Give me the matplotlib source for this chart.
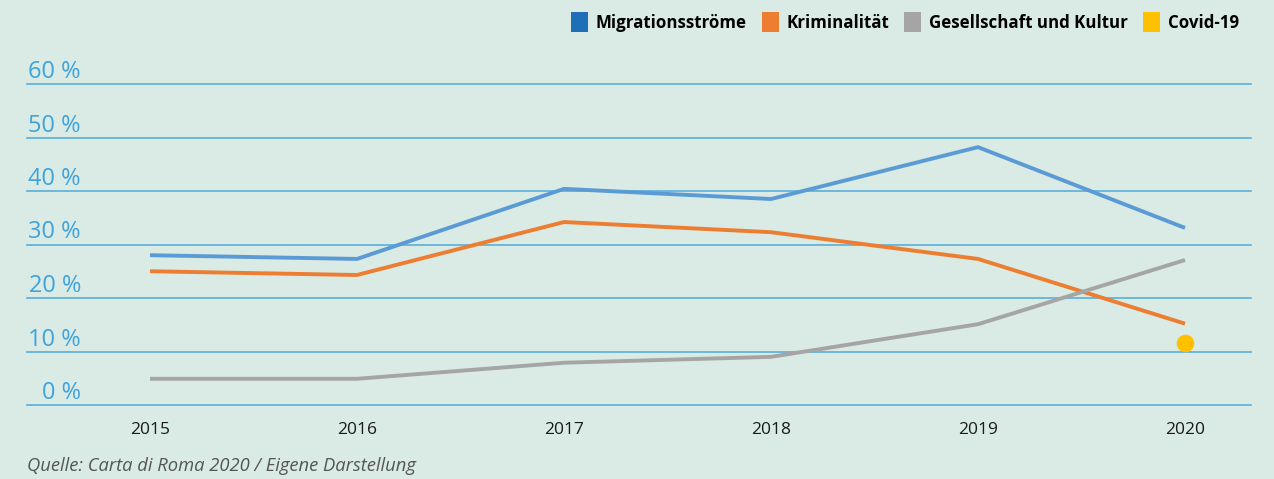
import matplotlib
matplotlib.use("Agg")
import matplotlib.pyplot as plt
from matplotlib.patches import Patch

years = [2015, 2016, 2017, 2018, 2019, 2020]
migration = [28.0, 27.3, 40.4, 38.5, 48.2, 33.1]
kriminalitaet = [25.0, 24.3, 34.2, 32.3, 27.3, 15.2]
gesellschaft = [4.9, 4.9, 7.9, 9.0, 15.1, 27.1]
covid_year = [2020]
covid = [11.6]
yticks = [0, 10, 20, 30, 40, 50, 60]
ytick_labels = ["0 %", "10 %", "20 %", "30 %", "40 %", "50 %", "60 %"]
legend_labels = ["Migrationsströme", "Kriminalität", "Gesellschaft und Kultur", "Covid-19"]
source = "Quelle: Carta di Roma 2020 / Eigene Darstellung"

BG = "#d9ebe4"
GRID = "#5aaedc"
TICK = "#3fa3dc"
C_BLUE = "#5b9bd5"
C_ORANGE = "#ed7d31"
C_GRAY = "#a5a5a5"
C_YELLOW = "#ffc000"
LEG_BLUE = "#1f6fb8"

plt.rcParams['font.family'] = ['Open Sans', 'DejaVu Sans']

W, H = 1274, 479
fig = plt.figure(figsize=(W / 100, H / 100), dpi=100, facecolor=BG)
ax = fig.add_axes([27 / W, 1 - 405 / H, (1251 - 27) / W, (405 - 84) / H], facecolor=BG)

ax.set_xlim(2015 - 123 / 207, 2020 + 66 / 207)
ax.set_ylim(0, 60)
for s in ax.spines.values():
    s.set_visible(False)

for y in yticks:
    ax.axhline(y, color=GRID, lw=1.2, zorder=1, clip_on=False)

ax.plot(years, migration, color=C_BLUE, lw=2.8, zorder=3, solid_capstyle='butt', clip_on=False)
ax.plot(years, kriminalitaet, color=C_ORANGE, lw=2.8, zorder=3, solid_capstyle='butt', clip_on=False)
ax.plot(years, gesellschaft, color=C_GRAY, lw=2.8, zorder=3, solid_capstyle='butt', clip_on=False)
ax.scatter(covid_year, covid, s=160, color=C_YELLOW, zorder=4, clip_on=False, linewidths=0)

ax.set_yticks([])
ax.set_xticks(years)
ax.set_xticklabels([str(y) for y in years], fontsize=12.5, color="#1a1a1a")
ax.tick_params(axis='x', length=0, pad=12)

for y, lab in zip(yticks, ytick_labels):
    ax.annotate(lab, xy=(0, y), xycoords=('axes fraction', 'data'),
                xytext=(54, 6), textcoords='offset pixels',
                ha='right', va='baseline', fontsize=17, color=TICK)

fig.text(27 / W, 1 - 466 / H, source, fontsize=13.2, style='italic', color="#555555",
         ha='left', va='center')

handles = [Patch(facecolor=c, edgecolor='none') for c in [LEG_BLUE, C_ORANGE, C_GRAY, C_YELLOW]]
fig.legend(handles, legend_labels, loc='upper right', bbox_to_anchor=(1254 / W, 1 + 3 / H),
           ncol=4, frameon=False, handlelength=1.0, handleheight=1.45, handletextpad=0.45,
           columnspacing=0.9, prop={'weight': 'bold', 'size': 12.2})

fig.savefig("out.png", dpi=100, facecolor=BG)
